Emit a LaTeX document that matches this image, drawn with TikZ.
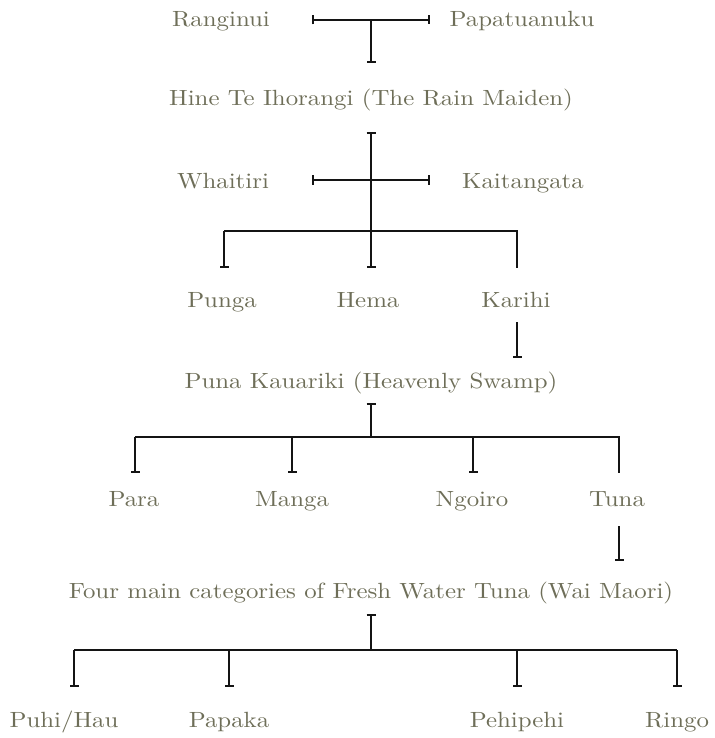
\documentclass[tikz,border=0pt]{standalone}
\usepackage{fontspec}
\newfontfamily\lblfont{lmroman10-regular.otf}[FakeStretch=1.13]
\usetikzlibrary{arrows.meta}
\definecolor{txt}{RGB}{110,110,88}
\definecolor{ln}{RGB}{20,20,20}
\tikzset{
  lbl/.style={text=txt, font=\lblfont\fontsize{22}{26}\selectfont, inner sep=0pt, anchor=base},
  con/.style={draw=ln, line width=2pt},
  bb/.style={{Bar[width=9pt,line width=1.6pt]}-{Bar[width=9pt,line width=1.6pt]}},
  eb/.style={-{Bar[width=9pt,line width=1.6pt]}},
  sb/.style={{Bar[width=9pt,line width=1.6pt]}-}
}
\begin{document}
\begin{tikzpicture}[x=1pt,y=-1pt]
\useasboundingbox (0,0) rectangle (714,738);
% labels
\node[lbl] (rang) at (221,27) {Ranginui};
\node[lbl] (papa) at (522,27) {Papatuanuku};
\node[lbl] (hine) at (371,106) {Hine Te Ihorangi (The Rain Maiden)};
\node[lbl] (whai) at (223,188) {Whaitiri};
\node[lbl] (kait) at (523,188) {Kaitangata};
\node[lbl] (pung) at (222,307) {Punga};
\node[lbl] (hema) at (368,307) {Hema};
\node[lbl] (kari) at (516,307) {Karihi};
\node[lbl] (puna) at (371,388) {Puna Kauariki (Heavenly Swamp)};
\node[lbl] (para) at (134,506) {Para};
\node[lbl] (mang) at (292,506) {Manga};
\node[lbl] (ngoi) at (472,506) {Ngoiro};
\node[lbl] (tuna) at (617,506) {Tuna};
\node[lbl] (four) at (371,598) {Four main categories of Fresh Water Tuna (Wai Maori)};
\node[lbl] (puhi) at (64,727) {Puhi/Hau};
\node[lbl] (papk) at (229,727) {Papaka};
\node[lbl] (pehi) at (517,727) {Pehipehi};
\node[lbl] (ring) at (677,727) {Ringo};
% junction coordinates
\coordinate (m1l) at (312,20);
\coordinate (m1r) at (430,20);
\coordinate (m1c) at (371,20);
\coordinate (h1) at (371,63);
\coordinate (m2l) at (312,180);
\coordinate (m2r) at (430,180);
\coordinate (h2t) at (371,132);
\coordinate (h2b) at (371,268);
\coordinate (b2l) at (224,231);
\coordinate (b2r) at (517,231);
\coordinate (p2l) at (224,268);
\coordinate (p2r) at (517,268);
\coordinate (k1) at (517,322);
\coordinate (k2) at (517,358);
\coordinate (q1) at (371,403);
\coordinate (q2) at (371,437);
\coordinate (ql) at (135,437);
\coordinate (qr) at (619,437);
\coordinate (qa) at (135,473);
\coordinate (qb) at (292,437);
\coordinate (qb2) at (292,473);
\coordinate (qc) at (473,437);
\coordinate (qc2) at (473,473);
\coordinate (qd) at (619,473);
\coordinate (t1) at (619,526);
\coordinate (t2) at (619,561);
\coordinate (f1) at (371,614);
\coordinate (f2) at (371,650);
\coordinate (fl) at (74,650);
\coordinate (fr) at (677,650);
\coordinate (fa) at (74,687);
\coordinate (fb) at (229,650);
\coordinate (fb2) at (229,687);
\coordinate (fc) at (517,650);
\coordinate (fc2) at (517,687);
\coordinate (fd) at (677,687);
% connectors
\draw[con,bb] (m1l) -- (m1r);
\draw[con,eb] (m1c) -- (h1);
\draw[con,bb] (m2l) -- (m2r);
\draw[con,bb] (h2t) -- (h2b);
\draw[con,eb] (b2l) -- (p2l);
\draw[con] (b2l) -- (b2r) -- (p2r);
\draw[con,eb] (k1) -- (k2);
\draw[con,sb] (q1) -- (q2);
\draw[con,eb] (ql) -- (qa);
\draw[con] (ql) -- (qr) -- (qd);
\draw[con,eb] (qb) -- (qb2);
\draw[con,eb] (qc) -- (qc2);
\draw[con,eb] (t1) -- (t2);
\draw[con,sb] (f1) -- (f2);
\draw[con] (fl) -- (fr);
\draw[con,eb] (fl) -- (fa);
\draw[con,eb] (fb) -- (fb2);
\draw[con,eb] (fc) -- (fc2);
\draw[con,eb] (fr) -- (fd);
\end{tikzpicture}
\end{document}
